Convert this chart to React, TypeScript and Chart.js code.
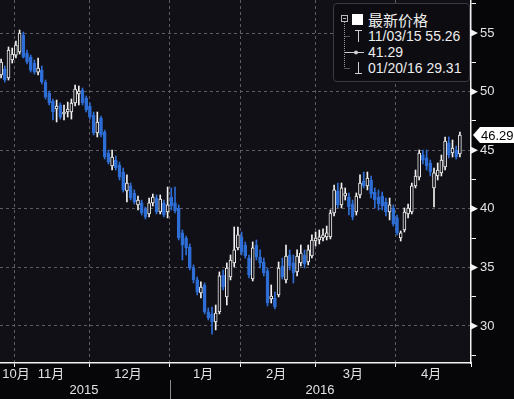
import React, { useEffect, useRef } from 'react';
import { Chart, registerables } from 'chart.js';
Chart.register(...registerables);

// ---- data ----
const opens = [
  51.42, 51.93, 51.16, 52.70, 53.12, 53.38, 54.83, 53.29, 52.95, 52.44,
  51.67, 51.84, 50.82, 49.88, 49.20, 48.52, 48.86, 48.09, 48.26, 48.26,
  49.03, 49.80, 50.14, 49.45, 48.77, 48.00, 46.47, 47.75, 46.55, 44.76,
  43.65, 44.16, 43.74, 43.14, 41.52, 41.95, 41.35, 40.33, 40.50, 39.98,
  39.56, 40.50, 40.92, 39.73, 40.50, 39.73, 41.01, 40.50, 40.07, 37.94,
  37.51, 36.74, 34.95, 33.93, 32.82, 33.50, 31.20, 31.03, 30.34, 31.20,
  34.35, 32.48, 34.18, 35.38, 36.66, 37.60, 36.91, 35.80, 34.01, 36.91,
  35.89, 35.46, 34.69, 32.31, 32.39, 32.65, 35.12, 33.93, 36.06, 35.38,
  34.61, 35.38, 36.06, 35.46, 35.97, 37.25, 37.34, 37.51, 37.60, 37.60,
  39.64, 41.52, 40.33, 41.09, 41.01, 40.41, 39.73, 41.18, 42.37, 41.95,
  42.46, 41.43, 41.01, 41.09, 40.58, 39.73, 40.07, 39.22, 37.51, 38.19,
  39.56, 39.73, 41.95, 42.71, 44.59, 44.34, 43.91, 41.78, 42.80, 43.06,
  43.57, 45.62, 44.76, 45.02, 44.68,
];
const highs = [
  52.78, 52.19, 53.81, 53.72, 54.32, 55.26, 55.09, 53.55, 53.12, 52.70,
  52.87, 52.19, 50.99, 50.05, 49.37, 49.28, 49.03, 48.86, 49.11, 49.37,
  50.56, 50.48, 50.31, 49.63, 49.03, 48.26, 48.26, 47.92, 46.72, 45.02,
  45.02, 44.51, 43.99, 43.48, 42.89, 42.20, 41.61, 41.09, 40.75, 40.15,
  40.92, 41.26, 41.18, 41.18, 40.75, 41.86, 41.78, 41.86, 40.33, 38.19,
  37.68, 37.00, 35.21, 34.18, 33.76, 33.67, 31.54, 31.62, 31.79, 34.61,
  34.78, 35.38, 36.06, 38.45, 38.45, 38.02, 37.17, 36.06, 37.17, 37.34,
  36.49, 35.80, 34.95, 33.50, 32.90, 35.46, 35.80, 36.91, 36.49, 36.06,
  36.49, 36.91, 36.49, 36.91, 37.77, 38.02, 38.19, 38.28, 38.53, 39.90,
  42.03, 42.20, 42.20, 41.78, 41.35, 40.75, 41.35, 42.89, 43.14, 43.14,
  42.80, 41.78, 41.61, 41.43, 40.92, 40.92, 40.33, 39.47, 38.11, 40.07,
  40.41, 42.20, 43.31, 45.02, 45.02, 45.02, 44.16, 43.48, 43.91, 44.59,
  46.13, 46.13, 45.87, 45.36, 46.55,
];
const lows = [
  51.16, 50.82, 50.99, 52.44, 52.87, 53.21, 52.87, 52.36, 51.67, 51.50,
  51.42, 50.65, 49.37, 48.86, 47.58, 47.41, 47.66, 47.58, 47.83, 47.66,
  48.77, 48.86, 48.86, 48.26, 47.66, 46.30, 46.13, 46.13, 44.25, 43.82,
  43.31, 43.31, 42.46, 41.43, 40.58, 40.75, 40.41, 39.90, 39.47, 39.13,
  39.30, 40.24, 39.56, 39.56, 39.30, 39.22, 39.90, 39.64, 37.34, 35.63,
  36.06, 34.78, 33.67, 32.65, 32.39, 31.03, 30.51, 29.31, 29.66, 31.03,
  33.07, 31.79, 33.93, 35.04, 36.49, 36.06, 35.80, 34.10, 33.84, 35.63,
  34.95, 34.27, 31.71, 31.96, 31.45, 32.48, 34.01, 33.67, 34.78, 33.67,
  34.27, 35.12, 34.95, 35.21, 35.80, 36.83, 37.00, 37.25, 37.34, 37.43,
  39.39, 40.07, 40.07, 40.75, 39.47, 39.05, 39.47, 40.92, 41.78, 41.61,
  40.92, 40.07, 39.90, 39.90, 39.39, 39.05, 38.53, 37.77, 37.25, 38.02,
  39.22, 39.56, 41.78, 42.46, 43.82, 43.31, 42.80, 40.15, 42.46, 42.80,
  43.31, 44.34, 44.42, 44.25, 44.42,
];
const closes = [
  52.53, 50.99, 53.55, 53.21, 53.98, 55.00, 52.95, 52.53, 51.84, 51.67,
  52.01, 50.82, 49.54, 49.03, 48.26, 48.77, 47.83, 48.26, 48.52, 49.03,
  50.22, 50.05, 49.03, 48.43, 47.83, 46.47, 47.41, 46.30, 44.42, 43.99,
  44.42, 43.48, 42.71, 41.61, 42.20, 40.92, 40.58, 40.75, 39.64, 39.30,
  40.50, 41.01, 39.73, 40.84, 39.47, 40.33, 40.24, 39.81, 37.51, 36.91,
  36.66, 34.95, 33.93, 32.90, 33.33, 31.20, 30.68, 30.34, 31.11, 34.27,
  33.33, 34.95, 35.63, 36.49, 37.77, 36.32, 35.97, 34.35, 36.66, 35.89,
  35.38, 34.52, 31.96, 32.56, 31.62, 34.95, 34.18, 35.97, 35.12, 34.52,
  35.97, 36.23, 35.29, 36.49, 37.34, 37.51, 37.60, 37.77, 37.94, 39.64,
  41.61, 40.33, 41.78, 41.35, 40.15, 39.30, 41.09, 42.20, 41.95, 42.63,
  41.26, 40.75, 40.41, 40.24, 39.73, 40.33, 38.70, 37.94, 37.94, 39.73,
  40.07, 41.95, 42.80, 44.76, 44.16, 43.65, 43.14, 43.06, 43.31, 44.16,
  45.79, 44.59, 45.19, 44.42, 46.29,
];

const monthBoundaries = [3.5, 24, 45.6, 64.6, 85.1, 106.5, 127];
const monthLabels = ['10月', '11月', '12月', '1月', '2月', '3月', '4月'];
const monthLabelPos = [4.0, 13.5, 34.3, 54.6, 74.3, 95.1, 116.2];
const yearLabels = ['2015', '2016'];
const yearLabelPos = [22.4, 86.2];
const yearSplit = 45.6;
const yMajorTicks = [30, 35, 40, 45, 50, 55];
const yMinorTicks = [27.5, 32.5, 37.5, 42.5, 47.5, 52.5, 57.5];
const legendTitle = '最新价格';
const legendHigh = '11/03/15 55.26';
const legendAvg = '41.29';
const legendLow = '01/20/16 29.31';

const XMIN = -0.3;
const XMAX = 127;
const YMIN = 26.84;
const YMAX = 57.82;

const PLOT_BG = '#101016';
const OUTER_BG = '#060608';
const GRID = '#5c5c62';
const WHITE = '#f2f2f2';
const BLUE = '#2e6ed6';
const TEXT = '#e2e2e2';
const FONT = "'Liberation Sans', Arial, 'Noto Sans CJK SC', sans-serif";

const decor = {
  id: 'decor',
  beforeDraw(chart: any) {
    const { ctx, chartArea: a, width, height } = chart;
    ctx.save();
    ctx.fillStyle = OUTER_BG;
    ctx.fillRect(0, 0, width, height);
    ctx.fillStyle = PLOT_BG;
    ctx.fillRect(a.left, a.top, a.right - a.left, a.bottom - a.top);
    ctx.restore();
  },
  afterDraw(chart: any) {
    const { ctx, chartArea: a, width, height } = chart;
    const y = chart.scales.y;
    const x = chart.scales.x;
    ctx.save();
    ctx.fillStyle = WHITE;
    yMajorTicks.forEach((v) => {
      const py = y.getPixelForValue(v);
      ctx.beginPath();
      ctx.moveTo(a.right, py - 3.5);
      ctx.lineTo(a.right + 7, py);
      ctx.lineTo(a.right, py + 3.5);
      ctx.closePath();
      ctx.fill();
    });
    const sx = Math.round(x.getPixelForValue(yearSplit)) + 0.5;
    ctx.strokeStyle = '#8a8a8a';
    ctx.lineWidth = 1;
    ctx.beginPath();
    ctx.moveTo(sx, chart.scales.x3.top - 2);
    ctx.lineTo(sx, height);
    ctx.stroke();
    const last = closes[closes.length - 1];
    const py = y.getPixelForValue(last);
    ctx.fillStyle = '#ffffff';
    ctx.beginPath();
    ctx.moveTo(a.right + 2, py);
    ctx.lineTo(a.right + 9, py - 8);
    ctx.lineTo(width, py - 8);
    ctx.lineTo(width, py + 8);
    ctx.lineTo(a.right + 9, py + 8);
    ctx.closePath();
    ctx.fill();
    ctx.fillStyle = '#000000';
    ctx.font = `13px ${FONT}`;
    ctx.textBaseline = 'middle';
    ctx.textAlign = 'left';
    ctx.fillText(last.toFixed(2), a.right + 10, py + 1);
    ctx.restore();
  },
};

export default function App() {
  const ref = useRef<HTMLCanvasElement | null>(null);

  useEffect(() => {
    document.body.style.margin = '0';
    document.body.style.background = OUTER_BG;
    const canvas = ref.current;
    if (!canvas) return;
    const idx = opens.map((_, i) => i);
    const up = idx.map((i) => closes[i] >= opens[i]);
    const chart = new Chart(canvas, {
      type: 'bar',
      data: {
        datasets: [
          {
            label: 'body',
            data: idx.map((i) => ({ x: i, y: [Math.min(opens[i], closes[i]), Math.max(opens[i], closes[i])] })) as any,
            backgroundColor: up.map((u) => (u ? PLOT_BG : BLUE)),
            borderColor: up.map((u) => (u ? WHITE : BLUE)),
            borderWidth: 1,
            borderSkipped: false,
            barThickness: 3,
            grouped: false,
            minBarLength: 1,
          } as any,
          {
            label: 'wick',
            data: idx.map((i) => ({ x: i, y: [lows[i], highs[i]] })) as any,
            backgroundColor: up.map((u) => (u ? WHITE : BLUE)),
            borderWidth: 0,
            barThickness: 1,
            grouped: false,
          } as any,
        ],
      },
      options: {
        animation: false,
        responsive: false,
        layout: { padding: 0 },
        plugins: { legend: { display: false }, tooltip: { enabled: false } },
        scales: {
          x: {
            type: 'linear',
            min: XMIN,
            max: XMAX,
            offset: false,
            position: 'bottom',
            weight: 0,
            afterBuildTicks: (s: any) => {
              s.ticks = monthBoundaries.map((v) => ({ value: v }));
            },
            afterFit: (s: any) => {
              s.height = 4;
              s.paddingLeft = 0;
              s.paddingRight = 0;
            },
            ticks: { display: false },
            grid: {
              color: (c: any) => (c.tick && c.tick.value >= XMAX ? 'transparent' : GRID),
              lineWidth: 1,
              tickLength: 4,
              tickColor: WHITE,
              tickWidth: 1,
              offset: false,
            },
            border: { display: true, color: WHITE, width: 1.5, dash: [3, 3] },
          },
          x2: {
            type: 'linear',
            min: XMIN,
            max: XMAX,
            offset: false,
            position: 'bottom',
            weight: 1,
            afterBuildTicks: (s: any) => {
              s.ticks = monthLabelPos.map((v) => ({ value: v }));
            },
            afterFit: (s: any) => {
              s.height = 15;
              s.paddingLeft = 0;
              s.paddingRight = 0;
            },
            ticks: {
              callback: (_v: any, i: number) => monthLabels[i],
              color: TEXT,
              font: { size: 13, family: FONT },
              padding: 0,
              autoSkip: false,
              maxRotation: 0,
            },
            grid: { display: false, drawTicks: false },
            border: { display: false },
          },
          x3: {
            type: 'linear',
            min: XMIN,
            max: XMAX,
            offset: false,
            position: 'bottom',
            weight: 2,
            afterBuildTicks: (s: any) => {
              s.ticks = yearLabelPos.map((v) => ({ value: v }));
            },
            afterFit: (s: any) => {
              s.height = 17;
              s.paddingLeft = 0;
              s.paddingRight = 0;
            },
            ticks: {
              callback: (_v: any, i: number) => yearLabels[i],
              color: TEXT,
              font: { size: 13, family: FONT },
              padding: 1,
              autoSkip: false,
              maxRotation: 0,
            },
            grid: { display: false, drawTicks: false },
            border: { display: false },
          },
          y: {
            type: 'linear',
            position: 'right',
            min: YMIN,
            max: YMAX,
            afterBuildTicks: (s: any) => {
              s.ticks = [...yMinorTicks, ...yMajorTicks].sort((a, b) => a - b).map((v) => ({ value: v }));
            },
            afterFit: (s: any) => {
              s.width = 43;
              s.paddingTop = 0;
              s.paddingBottom = 0;
            },
            ticks: {
              callback: (v: any) => (yMajorTicks.includes(v) ? String(v) : ''),
              color: TEXT,
              font: { size: 13, family: FONT },
              padding: 4,
              autoSkip: false,
            },
            grid: {
              color: (c: any) => (c.tick && yMajorTicks.includes(c.tick.value) ? GRID : 'transparent'),
              lineWidth: 1,
              tickLength: 5,
              tickColor: (c: any) => (c.tick && yMajorTicks.includes(c.tick.value) ? 'transparent' : WHITE),
              tickWidth: 1,
            },
            border: { display: true, color: WHITE, width: 1.5, dash: [3, 3] },
          },
        },
      } as any,
      plugins: [decor],
    });
    return () => chart.destroy();
  }, []);

  const legendText: React.CSSProperties = {
    position: 'absolute',
    left: 368,
    color: '#ececec',
    fontFamily: FONT,
    fontSize: 14,
    lineHeight: '16px',
    whiteSpace: 'nowrap',
  };

  return (
    <div style={{ position: 'relative', width: 514, height: 399, background: OUTER_BG, overflow: 'hidden' }}>
      <canvas ref={ref} width={514} height={399} style={{ display: 'block', width: 514, height: 399 }} />
      <div
        style={{
          position: 'absolute',
          left: 333,
          top: 3,
          width: 137,
          height: 79,
          boxSizing: 'border-box',
          background: '#0c0c11',
          border: '1px solid #3a3a42',
          borderRadius: 4,
        }}
      />
      <svg
        width={40}
        height={70}
        viewBox="338 10 40 70"
        style={{ position: 'absolute', left: 338, top: 10 }}
      >
        <rect x={341.5} y={15.5} width={6} height={6} fill="none" stroke="#b8b8b8" strokeWidth={1} />
        <line x1={343} y1={18.5} x2={346} y2={18.5} stroke="#b8b8b8" strokeWidth={1} />
        <rect x={352} y={14} width={11} height={11} fill="#ffffff" />
        <line x1={344.5} y1={22} x2={344.5} y2={68} stroke="#9a9a9a" strokeWidth={1} strokeDasharray="1,1" />
        <line x1={344.5} y1={36.5} x2={350} y2={36.5} stroke="#9a9a9a" strokeWidth={1} strokeDasharray="1,1" />
        <line x1={344.5} y1={68.5} x2={350} y2={68.5} stroke="#9a9a9a" strokeWidth={1} strokeDasharray="1,1" />
        <line x1={355} y1={30.5} x2={362} y2={30.5} stroke="#d0d0d0" strokeWidth={1} />
        <line x1={358.5} y1={30.5} x2={358.5} y2={42} stroke="#d0d0d0" strokeWidth={1} />
        <line x1={345} y1={52.5} x2={364} y2={52.5} stroke="#d0d0d0" strokeWidth={1} />
        <circle cx={356} cy={52.5} r={2} fill="#d0d0d0" />
        <line x1={358.5} y1={62} x2={358.5} y2={73.5} stroke="#d0d0d0" strokeWidth={1} />
        <line x1={355} y1={73.5} x2={362} y2={73.5} stroke="#d0d0d0" strokeWidth={1} />
      </svg>
      <div
        style={{
          ...legendText,
          top: 10,
          fontSize: 15,
          lineHeight: '20px',
          fontFamily: "'Noto Sans CJK SC', sans-serif",
        }}
      >
        {legendTitle}
      </div>
      <div style={{ ...legendText, top: 28 }}>{legendHigh}</div>
      <div style={{ ...legendText, top: 44 }}>{legendAvg}</div>
      <div style={{ ...legendText, top: 60 }}>{legendLow}</div>
    </div>
  );
}
